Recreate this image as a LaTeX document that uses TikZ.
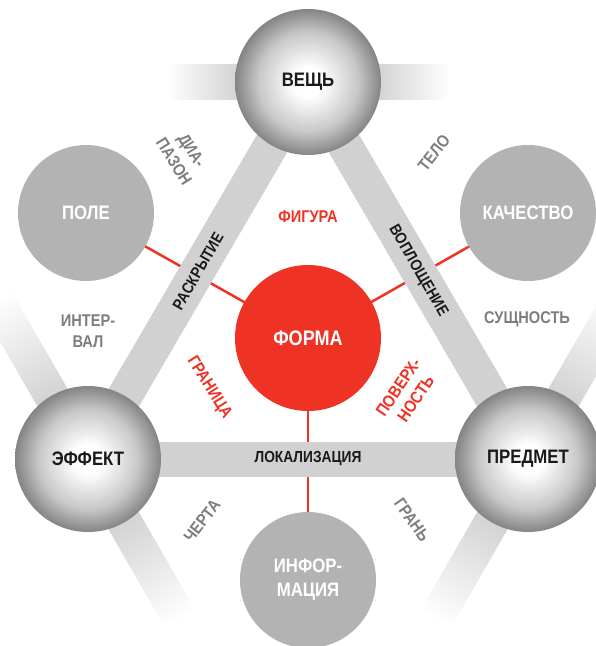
\documentclass[tikz,border=0pt]{standalone}
\usepackage{fontspec}
\newfontfamily\diagfont{Liberation Sans}[FakeStretch=0.86]
\usepackage{tikz}
\definecolor{bandGray}{RGB}{209,209,209}
\definecolor{ballGray}{RGB}{179,179,179}
\definecolor{labelGray}{RGB}{125,125,125}
\definecolor{formaRed}{RGB}{238,50,36}
\definecolor{inkBlack}{RGB}{26,26,26}
\definecolor{sphereMid}{RGB}{200,200,200}
\definecolor{sphereEdge}{RGB}{132,132,132}
\pgfdeclareradialshading{sphere}{\pgfpoint{0bp}{0bp}}{color(0bp)=(white); color(5bp)=(white); color(17bp)=(sphereMid); color(25bp)=(sphereEdge); color(50bp)=(sphereEdge)}
\pgfdeclarelayer{redlines}
\pgfdeclarelayer{bands}
\pgfsetlayers{redlines,bands,main}

\begin{document}
\begin{tikzpicture}[x=1pt, y=-1pt,
  every node/.style={font=\diagfont\bfseries\fontsize{17}{21}\selectfont, align=center, inner sep=0pt},
  bigball/.style={circle, minimum size=146pt, shade, shading=sphere, text=inkBlack,
    font=\diagfont\bfseries\fontsize{19.5}{22}\selectfont},
  smallball/.style={circle, minimum size=136pt, fill=ballGray, text=white,
    font=\diagfont\bfseries\fontsize{19.5}{24}\selectfont},
  formball/.style={circle, minimum size=146pt, fill=formaRed, text=white,
    font=\diagfont\bfseries\fontsize{21}{24}\selectfont},
  outerlabel/.style={text=labelGray},
  redlabel/.style={text=formaRed},
  bandlabel/.style={text=inkBlack, font=\diagfont\bfseries\fontsize{16}{18}\selectfont},
  band/.style={bandGray, line width=35pt},
  redline/.style={formaRed, line width=2.5pt}]
  \useasboundingbox (0,0) rectangle (596,646);
  \clip (0,0) rectangle (596,646);
  % Balls
  \node[bigball] (vesch) at (308,82) {ВЕЩЬ};
  \node[bigball] (effekt) at (88,459) {ЭФФЕКТ};
  \node[bigball] (predmet) at (528,459) {ПРЕДМЕТ};
  \node[formball] (forma) at (308,338) {ФОРМА};
  \node[smallball] (pole) at (86,213) {ПОЛЕ};
  \node[smallball] (kachestvo) at (528,213) {КАЧЕСТВО};
  \node[smallball] (info) at (308,580) {ИНФОР-\\МАЦИЯ};
  % Bands
  \begin{pgfonlayer}{bands}
    \draw[band] (vesch.center) -- (effekt.center);
    \draw[band] (vesch.center) -- (predmet.center);
    \draw[band] (effekt.center) -- (predmet.center);
    \foreach \ball/\ang/\len in {vesch/0/142, vesch/180/142, effekt/120/185,
        effekt/-60/185, predmet/60/185, predmet/240/185} {
      \begin{scope}[transform canvas={shift={(\ball.center)}, rotate=\ang}]
        \shade[left color=bandGray, right color=white] (66,-17.5) rectangle (\len,17.5);
      \end{scope}
    }
  \end{pgfonlayer}
  % Red links
  \begin{pgfonlayer}{redlines}
    \draw[redline] (forma.center) -- (pole.center);
    \draw[redline] (forma.center) -- (kachestvo.center);
    \draw[redline] (forma.center) -- (info.center);
  \end{pgfonlayer}
  % Band labels
  \node[bandlabel, rotate=60] (raskrytie) at (198,271) {РАСКРЫТИЕ};
  \node[bandlabel, rotate=-60] (voploshchenie) at (418,271) {ВОПЛОЩЕНИЕ};
  \node[bandlabel] (lokalizatsiya) at (308,459) {ЛОКАЛИЗАЦИЯ};
  % Outer labels
  \node[outerlabel, rotate=-58] (diapazon) at (183,156) {ДИА-\\ПАЗОН};
  \node[outerlabel, rotate=52] (telo) at (434,153) {ТЕЛО};
  \node[outerlabel] (interval) at (88,331) {ИНТЕР-\\ВАЛ};
  \node[outerlabel] (sushchnost) at (527,319) {СУЩНОСТЬ};
  \node[outerlabel, rotate=52] (cherta) at (202,521) {ЧЕРТА};
  \node[outerlabel, rotate=-55] (gran) at (412,520) {ГРАНЬ};
  % Red labels
  \node[redlabel] (figura) at (308,217) {ФИГУРА};
  \node[redlabel, rotate=-58] (granitsa) at (209,388) {ГРАНИЦА};
  \node[redlabel, rotate=56] (poverkhnost) at (407,393) {ПОВЕРХ-\\НОСТЬ};
\end{tikzpicture}
\end{document}
